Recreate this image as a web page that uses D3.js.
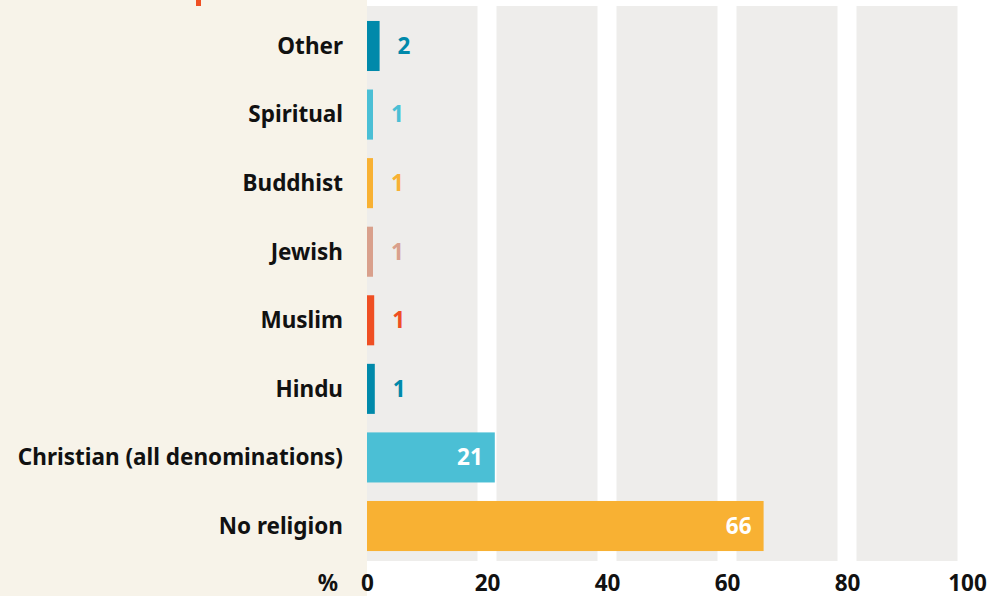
<!DOCTYPE html>
<html>
<head>
<meta charset="utf-8">
<script src="https://cdn.jsdelivr.net/npm/d3@7"></script>
<style>
  body { margin: 0; background: #ffffff; }
  svg { display: block; font-family: "Noto Sans", sans-serif; }
</style>
</head>
<body>
<svg width="996" height="596"></svg>
<script>
// Religion shares, % (top of chart first)
var categories = ["Other", "Spiritual", "Buddhist", "Jewish", "Muslim", "Hindu", "Christian (all denominations)", "No religion"];
var values = [2.1, 1.0, 1.0, 1.0, 1.2, 1.3, 21.3, 66.1];
var valueLabels = ["2", "1", "1", "1", "1", "1", "21", "66"];
var barColors = ["#0089aa", "#4bbfd5", "#f8b133", "#d9a08c", "#ef4f23", "#0089aa", "#4bbfd5", "#f8b133"];
var xTicks = [0, 20, 40, 60, 80, 100];

var svg = d3.select("svg");
var width = +svg.attr("width");
var height = +svg.attr("height");

var panelRight = 367;
var plotTop = 6, plotBottom = 561;
var fontSize = 22.5;

var x = d3.scaleLinear().domain([0, 100]).range([367, 967]);
var y = d3.scaleBand().domain(categories).range([11.7, 560.3]).paddingInner(0.27).paddingOuter(0.135);

// beige label panel
svg.append("rect")
  .attr("x", 0).attr("y", 0)
  .attr("width", panelRight).attr("height", height)
  .attr("fill", "#f7f3e9");

// small orange remnant of the title above
svg.append("rect")
  .attr("x", 196).attr("y", 0).attr("width", 5).attr("height", 6)
  .attr("fill", "#ef4f23");

// grey column bands between ticks
var bands = xTicks.slice(0, -1);
svg.append("g").selectAll("rect")
  .data(bands)
  .join("rect")
  .attr("x", function (d, i) { return i === 0 ? x(d) : x(d) + 9.5; })
  .attr("y", plotTop)
  .attr("width", function (d, i) { return x(d + 20) - 9.5 - (i === 0 ? x(d) : x(d) + 9.5); })
  .attr("height", plotBottom - plotTop)
  .attr("fill", "#eeedeb");

// bars
svg.append("g").selectAll("rect")
  .data(categories)
  .join("rect")
  .attr("x", x(0))
  .attr("y", function (d) { return y(d); })
  .attr("width", function (d, i) { return x(values[i]) - x(0); })
  .attr("height", y.bandwidth())
  .attr("fill", function (d, i) { return barColors[i]; });

// category labels
svg.append("g").selectAll("text")
  .data(categories)
  .join("text")
  .attr("x", 343)
  .attr("y", function (d) { return y(d) + y.bandwidth() / 2; })
  .attr("dy", "0.35em")
  .attr("text-anchor", "end")
  .attr("font-size", fontSize)
  .attr("font-weight", 700)
  .attr("fill", "#111111")
  .text(function (d) { return d; });

// value labels: inside big bars, outside small bars
svg.append("g").selectAll("text")
  .data(categories)
  .join("text")
  .attr("x", function (d, i) { return values[i] > 10 ? x(values[i]) - 12 : x(values[i]) + 18; })
  .attr("y", function (d) { return y(d) + y.bandwidth() / 2; })
  .attr("dy", "0.35em")
  .attr("text-anchor", function (d, i) { return values[i] > 10 ? "end" : "start"; })
  .attr("font-size", fontSize)
  .attr("font-weight", 700)
  .attr("fill", function (d, i) { return values[i] > 10 ? "#ffffff" : barColors[i]; })
  .text(function (d, i) { return valueLabels[i]; });

// x axis
var xAxis = svg.append("g")
  .call(d3.axisBottom(x).tickValues(xTicks).tickSize(0).tickPadding(0));
xAxis.select(".domain").remove();
xAxis.selectAll("text")
  .attr("y", 591)
  .attr("dy", 0)
  .attr("font-family", "Noto Sans, sans-serif")
  .attr("font-size", fontSize)
  .attr("font-weight", 700)
  .attr("fill", "#111111");

svg.append("text")
  .attr("x", 338).attr("y", 591)
  .attr("text-anchor", "end")
  .attr("font-size", fontSize)
  .attr("font-weight", 700)
  .attr("fill", "#111111")
  .text("%");
</script>
</body>
</html>
